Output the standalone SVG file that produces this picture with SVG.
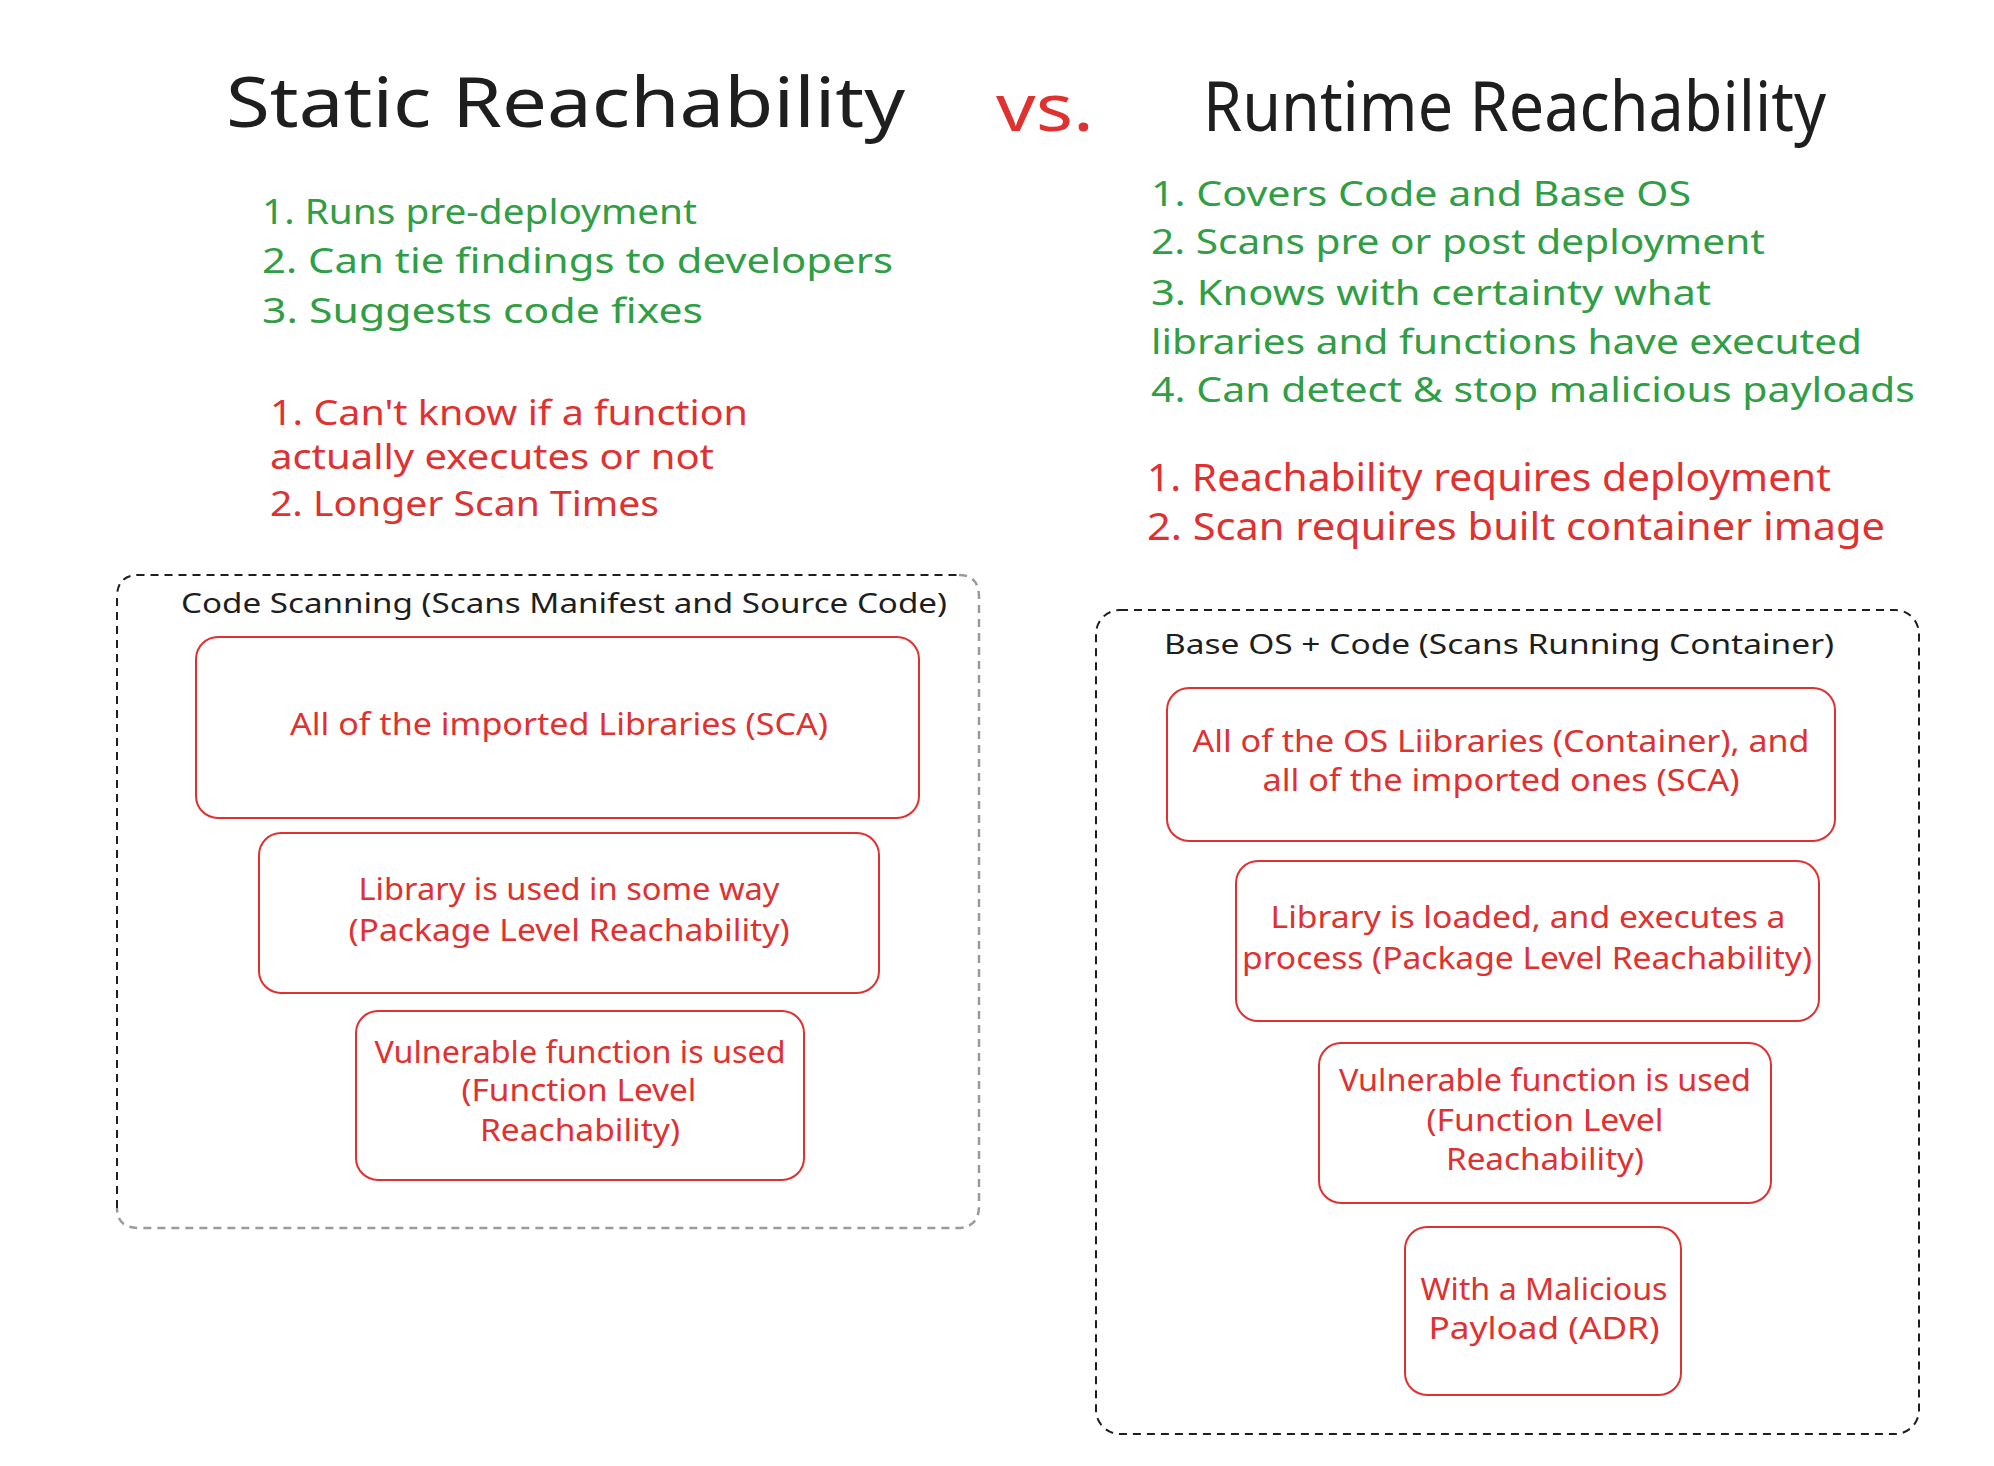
<svg xmlns="http://www.w3.org/2000/svg" width="1994" height="1466" viewBox="0 0 1994 1466">
<style>
text{font-family:"Noto Sans","DejaVu Sans",sans-serif;}
.title{fill:#1e1e1e;font-size:70px;}
.vs{fill:#e03131;font-size:66px;}
.green{fill:#2f9e44;font-size:35px;}
.red{fill:#e03131;font-size:35px;}
.redL{fill:#e03131;font-size:38px;}
.ctitle{fill:#1e1e1e;font-size:28px;}
.btxt{fill:#e03131;font-size:30px;text-anchor:middle;}
.box{fill:none;stroke:#e03131;stroke-width:2;}
.dash{fill:none;stroke:#1e1e1e;stroke-width:2;stroke-dasharray:8 6;}
.dashg{fill:none;stroke:#9a9a9a;stroke-width:2.5;stroke-dasharray:8 6;}
</style>
<rect width="1994" height="1466" fill="#ffffff"/>

<g id="titles">
<text class="title" x="226" y="127" textLength="679" lengthAdjust="spacingAndGlyphs">Static Reachability</text>
<text class="vs" x="996" y="131" textLength="98" lengthAdjust="spacingAndGlyphs">vs.</text>
<text class="title" x="1203" y="131" font-size="64" textLength="623" lengthAdjust="spacingAndGlyphs">Runtime Reachability</text>
</g>

<g id="static-pros">
<text class="green" x="262" y="224" textLength="435" lengthAdjust="spacingAndGlyphs">1. Runs pre-deployment</text>
<text class="green" x="262" y="273" textLength="631" lengthAdjust="spacingAndGlyphs">2. Can tie findings to developers</text>
<text class="green" x="262" y="323" textLength="441" lengthAdjust="spacingAndGlyphs">3. Suggests code fixes</text>
</g>
<g id="static-cons">
<text class="red" x="270" y="425" textLength="478" lengthAdjust="spacingAndGlyphs">1. Can't know if a function</text>
<text class="red" x="270" y="469" textLength="444" lengthAdjust="spacingAndGlyphs">actually executes or not</text>
<text class="red" x="270" y="516" textLength="389" lengthAdjust="spacingAndGlyphs">2. Longer Scan Times</text>
</g>

<g id="runtime-pros">
<text class="green" x="1151" y="206" textLength="540" lengthAdjust="spacingAndGlyphs">1. Covers Code and Base OS</text>
<text class="green" x="1151" y="254" textLength="614" lengthAdjust="spacingAndGlyphs">2. Scans pre or post deployment</text>
<text class="green" x="1151" y="305" textLength="560" lengthAdjust="spacingAndGlyphs">3. Knows with certainty what</text>
<text class="green" x="1151" y="354" textLength="711" lengthAdjust="spacingAndGlyphs">libraries and functions have executed</text>
<text class="green" x="1151" y="402" textLength="764" lengthAdjust="spacingAndGlyphs">4. Can detect &amp; stop malicious payloads</text>
</g>
<g id="runtime-cons">
<text class="redL" x="1147" y="491" textLength="684" lengthAdjust="spacingAndGlyphs">1. Reachability requires deployment</text>
<text class="redL" x="1147" y="540" textLength="738" lengthAdjust="spacingAndGlyphs">2. Scan requires built container image</text>
</g>

<g id="code-scanning">
<path class="dash" d="M117,1208 L117,597 Q117,575 139,575 L959,575"/>
<path class="dashg" d="M959,575 Q979,575 979,597 L979,1206 Q979,1228 957,1228 L139,1228 Q117,1228 117,1208"/>
<text class="ctitle" x="181" y="613" textLength="766" lengthAdjust="spacingAndGlyphs">Code Scanning (Scans Manifest and Source Code)</text>
</g>
<g id="s-box1">
<rect class="box" x="196" y="637" width="723" height="181" rx="22"/>
<text class="btxt" x="559" y="735" textLength="538" lengthAdjust="spacingAndGlyphs">All of the imported Libraries (SCA)</text>
</g>
<g id="s-box2">
<rect class="box" x="259" y="833" width="620" height="160" rx="22"/>
<text class="btxt" x="569" y="900" textLength="421" lengthAdjust="spacingAndGlyphs">Library is used in some way</text>
<text class="btxt" x="569" y="941" textLength="441" lengthAdjust="spacingAndGlyphs">(Package Level Reachability)</text>
</g>
<g id="s-box3">
<rect class="box" x="356" y="1011" width="448" height="169" rx="22"/>
<text class="btxt" x="580" y="1063" textLength="411" lengthAdjust="spacingAndGlyphs">Vulnerable function is used</text>
<text class="btxt" x="579" y="1101" textLength="235" lengthAdjust="spacingAndGlyphs">(Function Level</text>
<text class="btxt" x="580" y="1141" textLength="200" lengthAdjust="spacingAndGlyphs">Reachability)</text>
</g>

<g id="runtime-container">
<rect class="dash" x="1096" y="610" width="823" height="824" rx="24"/>
<text class="ctitle" x="1164" y="654" textLength="670" lengthAdjust="spacingAndGlyphs">Base OS + Code (Scans Running Container)</text>
</g>
<g id="r-box1">
<rect class="box" x="1167" y="688" width="668" height="153" rx="22"/>
<text class="btxt" x="1501" y="752" textLength="617" lengthAdjust="spacingAndGlyphs">All of the OS Liibraries (Container), and</text>
<text class="btxt" x="1501" y="791" textLength="477" lengthAdjust="spacingAndGlyphs">all of the imported ones (SCA)</text>
</g>
<g id="r-box2">
<rect class="box" x="1236" y="861" width="583" height="160" rx="22"/>
<text class="btxt" x="1528" y="928" textLength="515" lengthAdjust="spacingAndGlyphs">Library is loaded, and executes a</text>
<text class="btxt" x="1527" y="969" textLength="570" lengthAdjust="spacingAndGlyphs">process (Package Level Reachability)</text>
</g>
<g id="r-box3">
<rect class="box" x="1319" y="1043" width="452" height="160" rx="22"/>
<text class="btxt" x="1545" y="1091" textLength="412" lengthAdjust="spacingAndGlyphs">Vulnerable function is used</text>
<text class="btxt" x="1545" y="1131" textLength="237" lengthAdjust="spacingAndGlyphs">(Function Level</text>
<text class="btxt" x="1545" y="1170" textLength="198" lengthAdjust="spacingAndGlyphs">Reachability)</text>
</g>
<g id="r-box4">
<rect class="box" x="1405" y="1227" width="276" height="168" rx="22"/>
<text class="btxt" x="1544" y="1300" textLength="247" lengthAdjust="spacingAndGlyphs">With a Malicious</text>
<text class="btxt" x="1544" y="1339" textLength="231" lengthAdjust="spacingAndGlyphs">Payload (ADR)</text>
</g>

<g id="connectors"></g>
</svg>
